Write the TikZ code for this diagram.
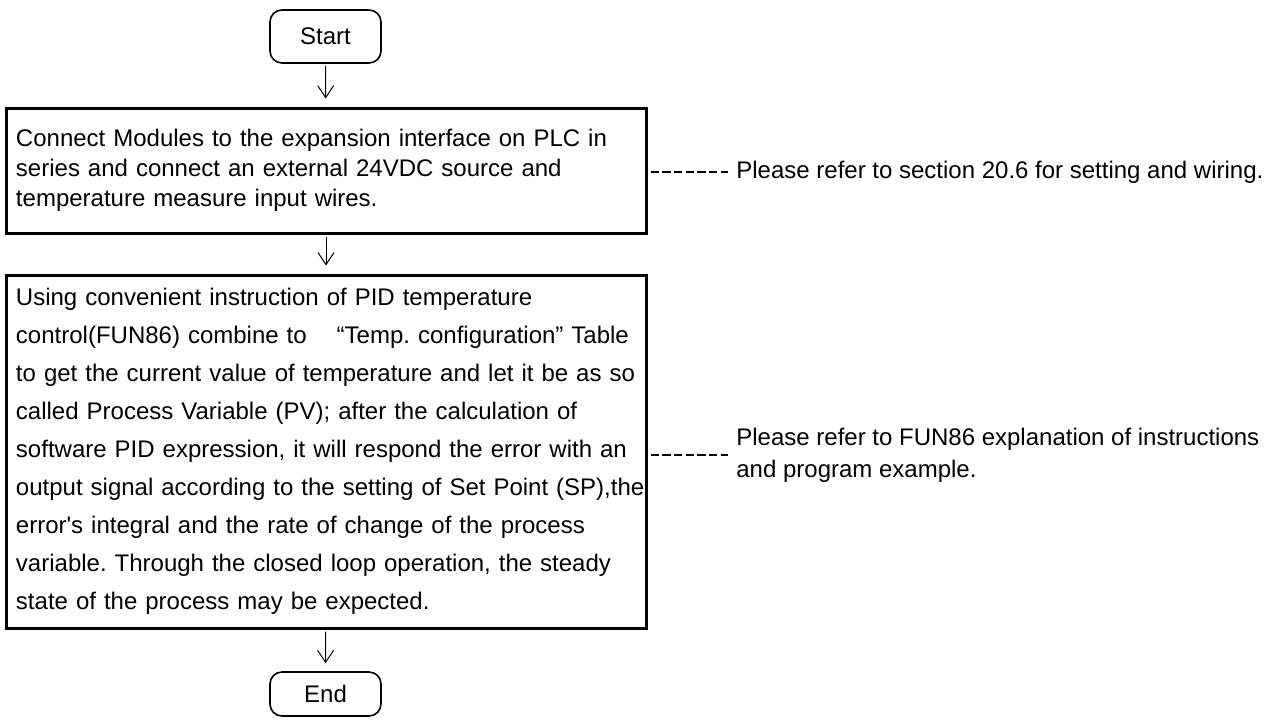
\documentclass[tikz,border=0pt]{standalone}
\usepackage{fontspec}
\setmainfont{Liberation Sans}
\usepackage{tikz}
\usetikzlibrary{arrows.meta}
\frenchspacing
\tikzset{
proc/.style={draw, line width=1.5pt, text width=310pt, inner xsep=5pt, inner ysep=2pt, align=left},
term/.style={draw, line width=0.8pt, rounded corners=6pt, minimum width=55.5pt, font=\fontsize{12}{14}\selectfont},
flow/.style={line width=0.5pt, -{Straight Barb[length=6pt,width=8pt]}, shorten <=1pt, shorten >=4pt},
note/.style={anchor=west, align=left, inner xsep=4pt, font=\fontsize{12}{16}\selectfont},
link/.style={line width=1pt, dash pattern=on 4.2pt off 1.65pt, shorten <=1.5pt}
}

\begin{document}
\begin{tikzpicture}[x=0.5pt, y=-0.5pt]
\useasboundingbox (0,0) rectangle (1276,720);

% terminals
\node[term, minimum height=26.5pt] (start) at (325.5, 36.5) {Start};
\node[term, minimum height=22pt] (end) at (325.5, 694) {End};

% process steps
\node[proc, minimum height=62.5pt, font=\fontsize{12}{15}\selectfont] (wire) at (326, 170.5)
{Connect Modules to the expansion interface on PLC in\\
series and connect an external 24VDC source and\\
temperature measure input wires.};
\node[proc, minimum height=176.5pt, font=\fontsize{12}{19}\selectfont] (pid) at (326, 451.5)
{Using convenient instruction of PID temperature\\
control(FUN86) combine to\hspace{15pt}“Temp. configuration” Table\\
to get the current value of temperature and let it be as so\\
called Process Variable (PV); after the calculation of\\
software PID expression, it will respond the error with an\\
\mbox{output signal according to the setting of Set Point (SP),the}\\
error\textquotesingle s integral and the rate of change of the process\\
variable. Through the closed loop operation, the steady\\
state of the process may be expected.};

% remarks
\node[note] (ref1) at (728, 172) {Please refer to section 20.6 for setting and wiring.};
\node[note] (ref2) at (728, 455) {Please refer to FUN86 explanation of instructions\\and program example.};

\draw[flow] (start) -- (wire);
\draw[flow] (wire) -- (pid);
\draw[flow] (pid) -- (end);
\draw[link] (wire.east |- ref1.west) -- (ref1.west);
\draw[link] (pid.east |- ref2.west) -- (ref2.west);

\end{tikzpicture}
\end{document}
